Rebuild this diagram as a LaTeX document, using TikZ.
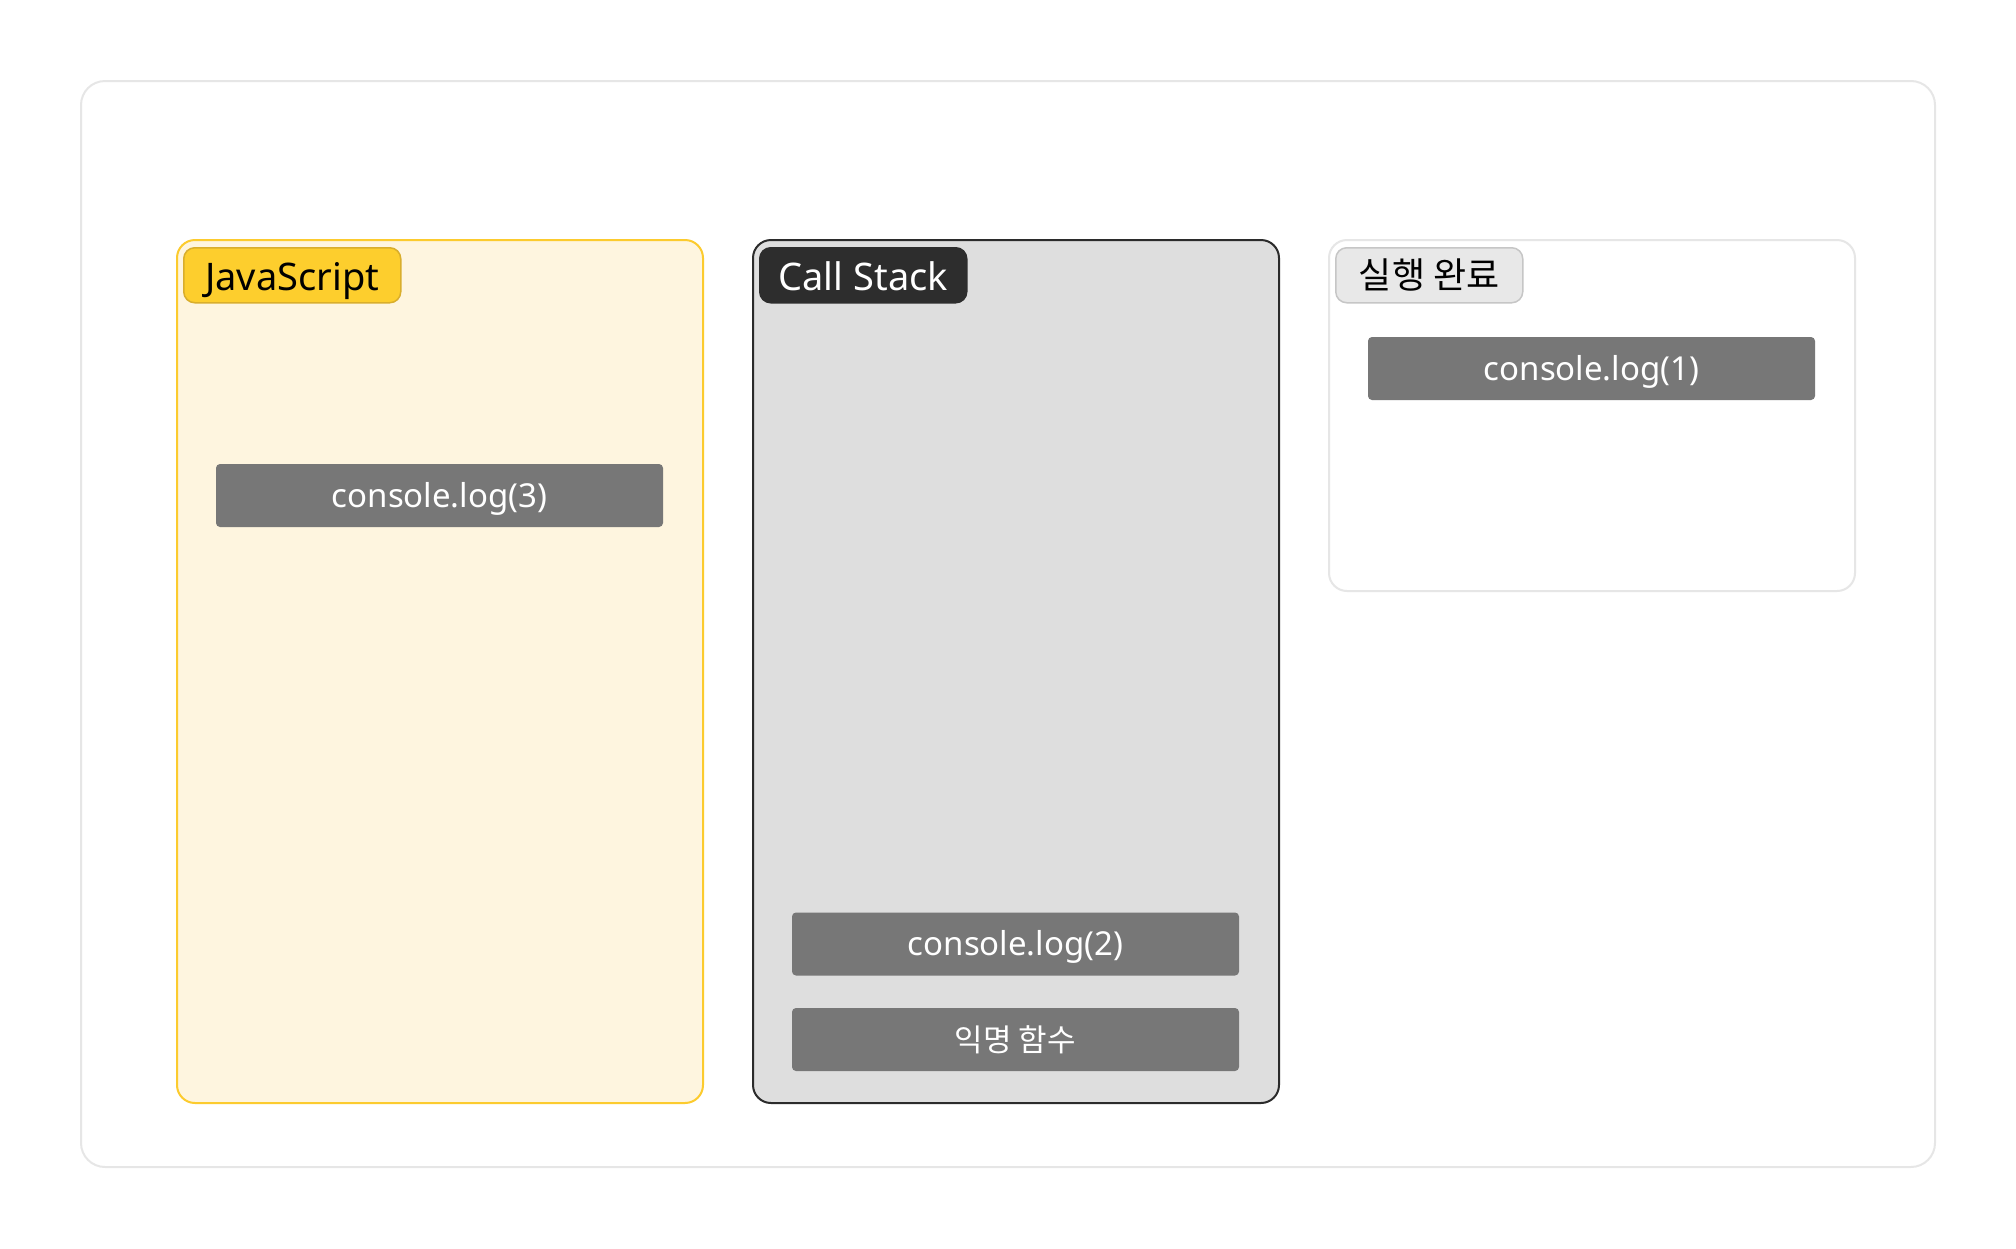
\documentclass[tikz,border=0pt]{standalone}
\usepackage{fontspec}
\setmainfont{Noto Sans}
\newfontfamily\kr{Noto Sans CJK KR}
\definecolor{frameline}{HTML}{E6E6E6}
\definecolor{jsfill}{HTML}{FEF5DF}
\definecolor{jsline}{HTML}{FCCB2E}
\definecolor{jslabel}{HTML}{FDCE2D}
\definecolor{jslabelline}{HTML}{D9AE2C}
\definecolor{csfill}{HTML}{DEDEDE}
\definecolor{csline}{HTML}{2B2B2B}
\definecolor{cslabel}{HTML}{2D2D2D}
\definecolor{donelabel}{HTML}{E8E8E8}
\definecolor{donelabelline}{HTML}{C6C6C6}
\definecolor{itemfill}{HTML}{777777}
\begin{document}
\begin{tikzpicture}[x=1pt,y=-1pt,
  frame/.style={draw=frameline, line width=2pt, fill=white, rounded corners=24pt, inner sep=0pt},
  panel/.style={line width=2pt, rounded corners=18pt, inner sep=0pt, minimum width=526pt},
  tag/.style={line width=1.5pt, rounded corners=11pt, anchor=north west, inner sep=0pt, minimum height=55pt,
    font=\fontsize{38}{42}\selectfont},
  latintag/.style={text height=31pt, text depth=0pt},
  item/.style={fill=itemfill, rounded corners=4pt, inner sep=0pt, minimum width=447pt, minimum height=63pt,
    text=white, font=\fontsize{33}{36}\selectfont},
  latinitem/.style={text height=23.6pt, text depth=0pt}]
\useasboundingbox (0,0) rectangle (2016,1248);
\node[frame, minimum width=1854pt, minimum height=1086pt] (outer) at (1008,624) {};
% panels
\node[panel, draw=jsline, fill=jsfill, minimum height=863pt] (js) at (440,671.5) {};
\node[panel, draw=csline, fill=csfill, minimum height=863pt] (cs) at (1016,671.5) {};
\node[panel, draw=frameline, fill=white, minimum height=351pt] (done) at (1592,415.5) {};
% tags
\node[tag, latintag, draw=jslabelline, fill=jslabel, minimum width=217pt, text=black] (jstag) at (183,247) {JavaScript};
\node[tag, latintag, draw=cslabel, fill=cslabel, minimum width=207pt, text=white] (cstag) at (759,247) {Call Stack};
\node[tag, draw=donelabelline, fill=donelabel, minimum width=187pt, text=black,
  font=\fontsize{36}{40}\selectfont] (donetag) at (1335,247) {\kr 실행 완료};
% items
\node[item, latinitem] (log3) at (439.5,495.5) {console.log(3)};
\node[item, latinitem] (log2) at (1015.5,944) {console.log(2)};
\node[item, font=\fontsize{31}{34}\selectfont] (anon) at (1015.5,1039.5) {\kr 익명 함수};
\node[item, latinitem] (log1) at (1591.5,368.5) {console.log(1)};
\end{tikzpicture}
\end{document}
